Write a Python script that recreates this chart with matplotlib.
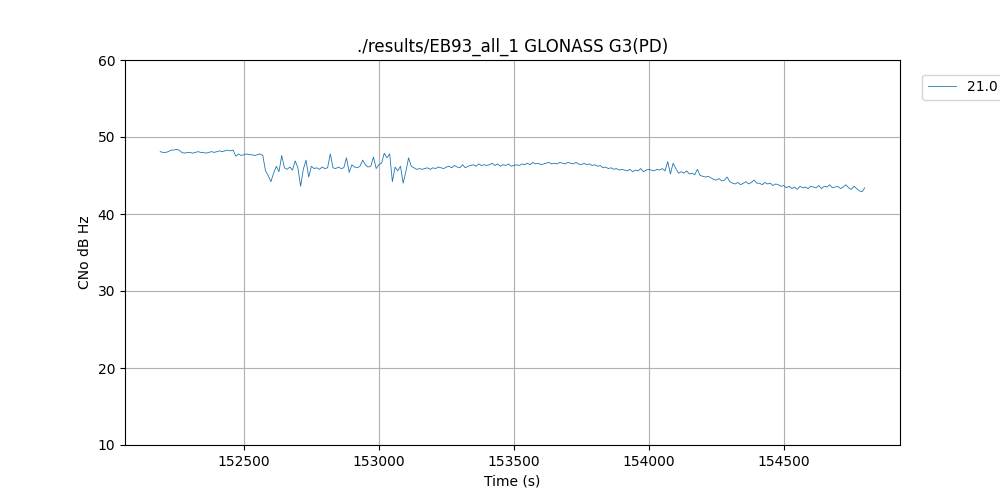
import numpy as np
import matplotlib.pyplot as plt

# time axis (s), 10 s sampling
t_start = 152190
t_end = 154800
time_s = np.arange(t_start, t_end + 1, 10)

# CNo values (dB Hz)
cno = [
    48.1, 48.0, 48.0, 48.1, 48.3, 48.3, 48.4, 48.3,
    48.0, 47.9, 48.0, 48.0, 47.9, 48.0, 48.1, 48.0, 48.0, 47.9,
    48.0, 48.1, 48.0, 48.1, 48.2, 48.1, 48.2, 48.3, 48.2, 48.3,
    47.5, 47.8, 47.6, 47.7, 47.8, 47.7, 47.7, 47.6, 47.7, 47.8,
    47.6, 45.6, 45.0, 44.2, 45.3, 46.2, 45.5, 47.6, 46.0, 45.8, 46.1, 45.7, 46.9, 46.0,
    43.6, 45.8, 47.0, 44.8, 46.2, 45.9, 46.0, 45.8, 46.1, 45.9,
    46.0, 47.8, 46.0, 45.9, 46.1, 45.9, 46.0, 47.3, 45.4, 46.4,
    46.1, 46.0, 46.2, 47.0, 46.4, 46.1, 46.2, 47.4, 45.9, 46.4,
    46.6, 47.9, 47.3, 47.8, 44.2, 46.1, 45.6, 46.2, 44.0, 45.5,
    47.3, 46.2, 46.0, 45.8, 45.9, 45.8, 45.9, 46.0, 45.8, 46.0,
    45.9, 46.1, 46.0, 45.9, 46.1, 46.2, 46.0, 46.3, 46.1, 46.0,
    46.4, 46.0, 46.2, 46.3, 46.4, 46.2, 46.5, 46.3, 46.4, 46.3,
    46.4, 46.6, 46.3, 46.5, 46.2, 46.4, 46.3, 46.5, 46.2, 46.3,
    46.4, 46.3, 46.5, 46.4, 46.6, 46.4, 46.7, 46.5, 46.6, 46.4,
    46.5, 46.6, 46.7, 46.5, 46.6, 46.5, 46.7, 46.6, 46.5, 46.7,
    46.6, 46.5, 46.7, 46.5, 46.4, 46.6, 46.4, 46.5, 46.3, 46.4,
    46.2, 46.3, 46.0, 46.1, 45.9, 46.0, 45.8, 45.9, 45.7, 45.8,
    45.7, 45.6, 45.8, 45.5, 45.7, 45.6, 45.9, 45.5, 45.7, 45.8,
    45.7, 45.6, 45.8, 45.7, 45.9, 45.6, 46.8, 45.2, 46.6, 45.9,
    45.3, 45.5, 45.3, 45.6, 45.2, 45.3, 45.1, 45.8, 45.0, 44.9,
    44.8, 44.9, 44.7, 44.5, 44.4, 44.6, 44.3, 44.4, 44.8, 44.2,
    44.0, 43.9, 44.1, 43.8, 44.0, 44.2, 43.9, 44.1, 44.4, 44.0,
    44.0, 43.8, 44.1, 43.9, 44.0, 43.7, 43.9, 43.8, 43.6, 43.7,
    43.4, 43.6, 43.3, 43.5, 43.2, 43.6, 43.4, 43.5, 43.3, 43.6,
    43.5, 43.4, 43.7, 43.3, 43.6, 43.5, 43.8, 43.4, 43.5, 43.6,
    43.3, 43.5, 43.8, 43.4, 43.2, 43.6, 43.3, 43.0, 42.9, 43.4,
]

label = "21.0"

fig, ax = plt.subplots(figsize=(10, 5), dpi=100)
ax.plot(time_s, cno, linewidth=0.6, label=label)
ax.set_ylim(10, 60)
ax.set_title("./results/EB93_all_1 GLONASS G3(PD)")
ax.set_xlabel("Time (s)")
ax.set_ylabel("CNo dB Hz")
ax.grid(True)
ax.legend(loc="upper left", bbox_to_anchor=(1.02, 0.98))
fig.savefig("out.png")
